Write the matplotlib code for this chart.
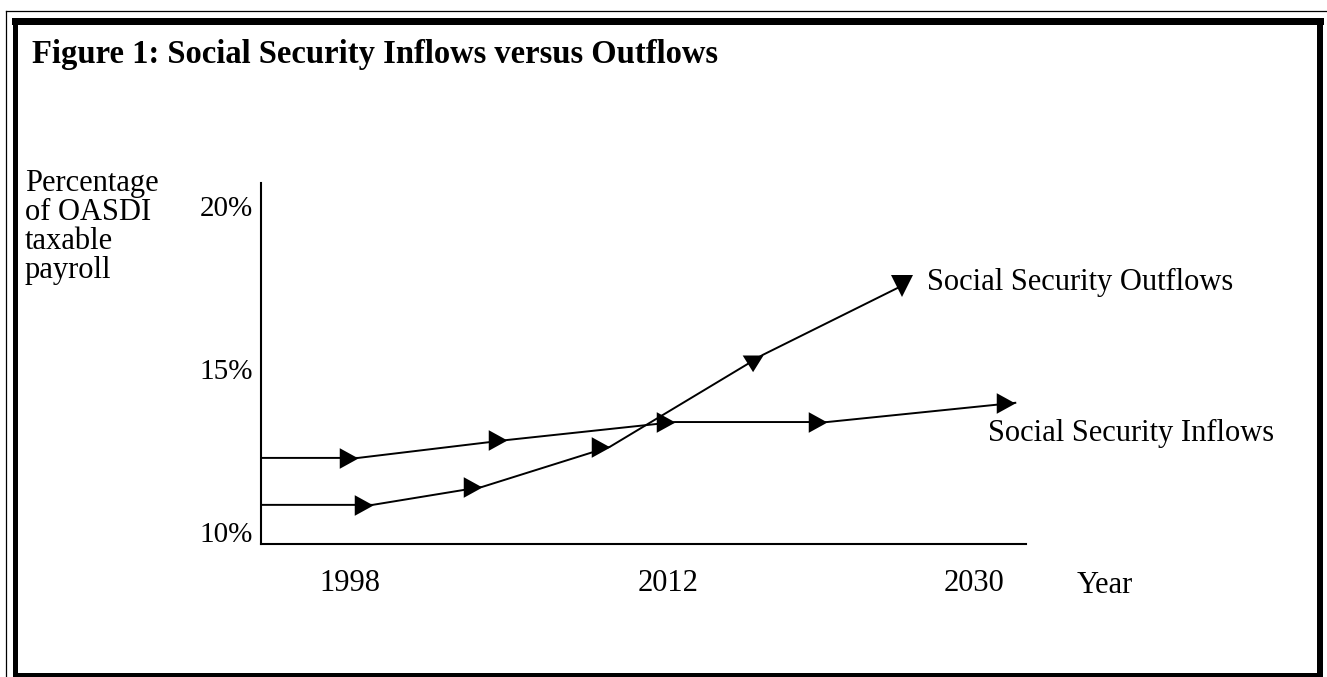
import matplotlib
matplotlib.use("Agg")
import matplotlib.pyplot as plt
from matplotlib.path import Path
from matplotlib.lines import Line2D

# ---------------- data ----------------
title = "Figure 1: Social Security Inflows versus Outflows"
ylabel_lines = ["Percentage", "of OASDI", "taxable", "payroll"]
year_labels = ["1998", "2012", "2030"]
year_pos = [1.16, 5.32, 9.32]          # schematic horizontal positions
pct_ticks = [10, 15, 20]
pct_labels = ["10%", "15%", "20%"]

inflow_x = [0.0, 1.27, 3.22, 5.41, 7.40, 9.86]
inflow_y = [12.28, 12.28, 12.83, 13.38, 13.38, 13.97]
outflow_x = [0.0, 1.46, 2.89, 4.56, 6.56, 8.38]
outflow_y = [10.84, 10.84, 11.39, 12.62, 15.44, 17.56]

inflow_name = "Social Security Inflows"
outflow_name = "Social Security Outflows"

# ---------------- style ----------------
W, H = 1327, 677
SERIF = ["Liberation Serif", "DejaVu Serif"]
plt.rcParams["font.family"] = SERIF

fig = plt.figure(figsize=(W / 100, H / 100), dpi=100)
fig.patch.set_facecolor("white")


def fx(px):
    return px / W


def fy(py):
    return 1 - py / H


# axes: x 261..1026 px, y 183..544 px
ax = fig.add_axes([fx(261), fy(544), (1026 - 261) / W, (544 - 183) / H])
ax.set_xlim(0, 10)
ax.set_ylim(9.64, 20.71)
for s in ("top", "right"):
    ax.spines[s].set_visible(False)
for s in ("left", "bottom"):
    ax.spines[s].set_linewidth(1.5)
    ax.spines[s].set_color("black")

ax.set_yticks(pct_ticks, pct_labels)
ax.set_xticks(year_pos, year_labels)
ax.tick_params(axis="y", length=0, pad=6, labelsize=21)
ax.tick_params(axis="x", length=0, pad=18, labelsize=22)

# marker shapes (arrow heads)
tip_right = Path([(0, 0), (-1, 0.55), (-1, -0.55), (0, 0)],
                 [Path.MOVETO, Path.LINETO, Path.LINETO, Path.CLOSEPOLY])
corner_down = Path([(0, 0), (-1, 0), (-0.5, -0.8), (0, 0)],
                   [Path.MOVETO, Path.LINETO, Path.LINETO, Path.CLOSEPOLY])
shapes = {">": (tip_right, 27), "c": (corner_down, 30), "v": ("v", 16)}
inflow_marks = [None, ">", ">", ">", ">", ">"]
outflow_marks = [None, ">", ">", ">", "c", "v"]


def draw_series(xs, ys, marks):
    ax.plot(xs, ys, color="black", lw=1.4, clip_on=False, zorder=2)
    for xv, yv, m in zip(xs, ys, marks):
        if m is None:
            continue
        shp, ms = shapes[m]
        ax.plot([xv], [yv], linestyle="none", marker=shp, ms=ms,
                color="black", mew=0, clip_on=False, zorder=3)


draw_series(inflow_x, inflow_y, inflow_marks)
draw_series(outflow_x, outflow_y, outflow_marks)

ax.text(8.71, 17.65, outflow_name, fontsize=22, va="center", ha="left",
        clip_on=False)
ax.text(9.50, 13.02, inflow_name, fontsize=22, va="center", ha="left",
        clip_on=False)

# title and axis captions
fig.text(fx(32), fy(63), title, fontsize=23.5, fontweight="bold",
         ha="left", va="baseline")
for i, line in enumerate(ylabel_lines):
    fig.text(fx(25), fy(191 + 29 * i), line, fontsize=22, ha="left",
             va="baseline")
fig.text(fx(1077), fy(593), "Year", fontsize=22, ha="left", va="baseline")

# borders: thin outer line and thick frame
fig.add_artist(Line2D([fx(5.5), fx(5.5)], [fy(10.5), fy(677)],
                      transform=fig.transFigure, color="black", lw=0.9))
fig.add_artist(Line2D([fx(5.5), fx(1327)], [fy(10.5), fy(10.5)],
                      transform=fig.transFigure, color="black", lw=0.9))
thick = dict(transform=fig.transFigure, color="black",
             solid_capstyle="projecting")
fig.add_artist(Line2D([fx(14.5), fx(1320)], [fy(20.5), fy(20.5)],
                      lw=7 * 0.72, **thick))
fig.add_artist(Line2D([fx(14.5), fx(14.5)], [fy(20.5), fy(674.5)],
                      lw=5 * 0.72, **thick))
fig.add_artist(Line2D([fx(1320), fx(1320)], [fy(20.5), fy(674.5)],
                      lw=6 * 0.72, **thick))
fig.add_artist(Line2D([fx(14.5), fx(1320)], [fy(674.5), fy(674.5)],
                      lw=5 * 0.72, **thick))

fig.savefig("out.png", dpi=100, facecolor="white")
